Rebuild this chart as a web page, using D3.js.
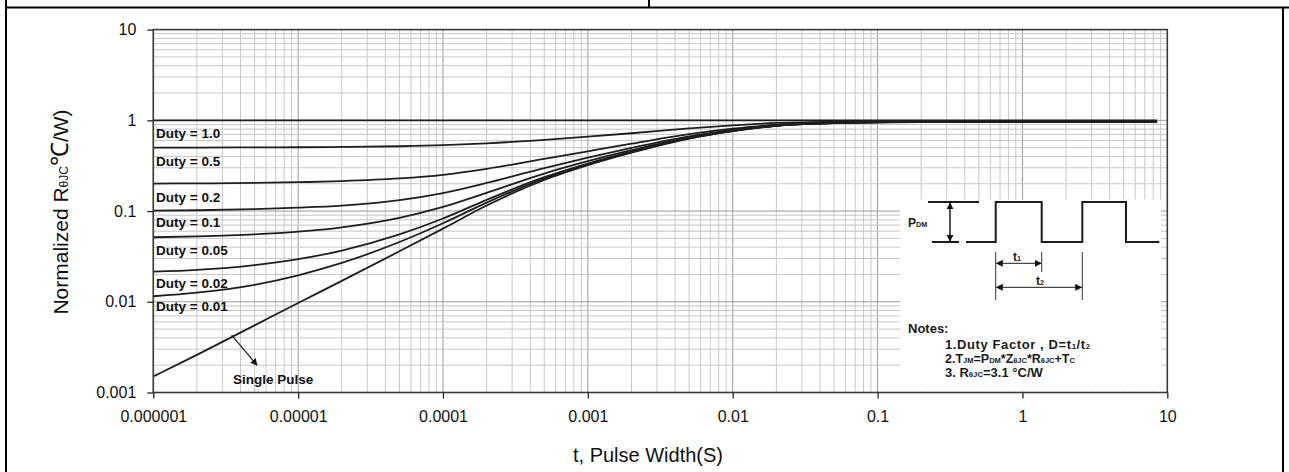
<!DOCTYPE html>
<html>
<head>
<meta charset="utf-8">
<script src="https://cdn.jsdelivr.net/npm/d3@7"></script>
<style>
  body { margin: 0; background: #fff; }
  svg { display: block; }
</style>
</head>
<body>
<div id="chart"></div>
<script>
// pulse widths (s) where the curves were read
const pulseWidths = [1e-6, 2e-6, 5e-6, 1e-5, 2e-5, 5e-5, 1e-4, 2e-4, 5e-4, 1e-3, 2e-3, 5e-3, 1e-2, 2e-2, 5e-2, 1e-1, 2e-1, 8.5];

// normalized thermal impedance, one list per duty factor
const duty10  = [1, 1, 1, 1, 1, 1, 1, 1, 1, 1, 1, 1, 1, 1, 1, 1, 1, 1];
const duty05  = [0.501, 0.501, 0.503, 0.505, 0.509, 0.518, 0.532, 0.558, 0.61, 0.66, 0.72, 0.815, 0.88, 0.935, 0.965, 0.975, 0.978, 0.978];
const duty02  = [0.201, 0.202, 0.204, 0.208, 0.214, 0.229, 0.251, 0.292, 0.376, 0.456, 0.552, 0.704, 0.808, 0.896, 0.944, 0.96, 0.964, 0.964];
const duty01  = [0.101, 0.102, 0.105, 0.109, 0.115, 0.132, 0.158, 0.204, 0.298, 0.388, 0.496, 0.667, 0.784, 0.883, 0.937, 0.955, 0.96, 0.96];
const duty005 = [0.0514, 0.0525, 0.0552, 0.0592, 0.0662, 0.0842, 0.111, 0.159, 0.259, 0.354, 0.468, 0.649, 0.772, 0.877, 0.934, 0.953, 0.957, 0.957];
const duty002 = [0.0215, 0.0225, 0.0254, 0.0295, 0.0367, 0.0553, 0.0827, 0.133, 0.236, 0.334, 0.451, 0.637, 0.765, 0.873, 0.931, 0.951, 0.956, 0.956];
const duty001 = [0.0115, 0.0126, 0.0154, 0.0196, 0.0268, 0.0456, 0.0734, 0.124, 0.228, 0.327, 0.446, 0.634, 0.762, 0.871, 0.931, 0.951, 0.955, 0.955];
const single  = [0.0015, 0.0026, 0.0055, 0.0097, 0.017, 0.036, 0.064, 0.115, 0.22, 0.32, 0.44, 0.63, 0.76, 0.87, 0.93, 0.95, 0.955, 0.955];

const series = [duty10, duty05, duty02, duty01, duty005, duty002, duty001, single];
const dutyLabels = ["Duty = 1.0", "Duty = 0.5", "Duty = 0.2", "Duty = 0.1", "Duty = 0.05", "Duty = 0.02", "Duty = 0.01"];

// axis ticks
const xTicks = [1e-6, 1e-5, 1e-4, 1e-3, 1e-2, 1e-1, 1, 10];
const xTickLabels = ["0.000001", "0.00001", "0.0001", "0.001", "0.01", "0.1", "1", "10"];
const yTicks = [0.001, 0.01, 0.1, 1, 10];
const yTickLabels = ["0.001", "0.01", "0.1", "1", "10"];

// single pulse pointer (from the curve down to its label)
const pointerFrom = [3.47e-6, 0.0043];
const pointerTo = [5.2e-6, 0.002];

const W = 1289, H = 472;
const plot = { left: 153.3, right: 1167.3, top: 29.6, bottom: 392.5 };

const svg = d3.select("#chart")
    .append("svg")
    .attr("width", W)
    .attr("height", H);

// outer frame of the datasheet table
svg.append("line").attr("x1", 6).attr("x2", W).attr("y1", 7.5).attr("y2", 7.5)
    .attr("stroke", "#000").attr("stroke-width", 2);
svg.append("line").attr("x1", 649).attr("x2", 649).attr("y1", 0).attr("y2", 7.5)
    .attr("stroke", "#000").attr("stroke-width", 2);
svg.append("line").attr("x1", 6).attr("x2", 6).attr("y1", 0).attr("y2", H)
    .attr("stroke", "#000").attr("stroke-width", 2);
svg.append("line").attr("x1", 1283).attr("x2", 1283).attr("y1", 7.5).attr("y2", H)
    .attr("stroke", "#000").attr("stroke-width", 2);

const xScale = d3.scaleLog().domain([1e-6, 10]).range([plot.left, plot.right]);
const yScale = d3.scaleLog().domain([0.001, 10]).range([plot.bottom, plot.top]);

// grid lines (1..9 per decade)
const xGrid = [], yGrid = [];
for (let e = -6; e < 1; e++) for (let k = 1; k < 10; k++) xGrid.push({ v: k * Math.pow(10, e), major: k === 1 });
for (let e = -3; e < 1; e++) for (let k = 1; k < 10; k++) yGrid.push({ v: k * Math.pow(10, e), major: k === 1 });

const grid = svg.append("g").attr("class", "grid");
grid.selectAll(".gx")
    .data(xGrid)
    .join("line")
    .attr("x1", d => xScale(d.v)).attr("x2", d => xScale(d.v))
    .attr("y1", plot.top).attr("y2", plot.bottom)
    .attr("stroke", d => d.major ? "#9a9a9a" : "#c6c6c6")
    .attr("stroke-width", 1);
grid.selectAll(".gy")
    .data(yGrid)
    .join("line")
    .attr("x1", plot.left).attr("x2", plot.right)
    .attr("y1", d => yScale(d.v)).attr("y2", d => yScale(d.v))
    .attr("stroke", d => d.major ? "#9a9a9a" : "#c6c6c6")
    .attr("stroke-width", 1);

// white box behind the inset drawing
svg.append("rect")
    .attr("x", 900).attr("y", 199.5)
    .attr("width", 261).attr("height", 192)
    .attr("fill", "#fff");

// curves
const line = d3.line()
    .x((d, i) => xScale(pulseWidths[i]))
    .y(d => yScale(d))
    .curve(d3.curveMonotoneX);

svg.selectAll(".curve")
    .data(series)
    .join("path")
    .attr("class", "curve")
    .attr("fill", "none")
    .attr("stroke", "#1e1e1e")
    .attr("stroke-width", 1.8)
    .attr("d", line);

// plot border
svg.append("rect")
    .attr("x", plot.left).attr("y", plot.top)
    .attr("width", plot.right - plot.left).attr("height", plot.bottom - plot.top)
    .attr("fill", "none")
    .attr("stroke", "#3a3a3a")
    .attr("stroke-width", 1.6);

// axes
const xAxis = svg.append("g")
    .attr("transform", `translate(0,${plot.bottom})`)
    .call(d3.axisBottom(xScale).tickValues(xTicks).tickSize(6).tickPadding(12)
        .tickFormat((d, i) => xTickLabels[i]));
const yAxis = svg.append("g")
    .attr("transform", `translate(${plot.left},0)`)
    .call(d3.axisLeft(yScale).tickValues(yTicks).tickSize(6).tickPadding(11)
        .tickFormat((d, i) => yTickLabels[i]));

[xAxis, yAxis].forEach(a => {
    a.select(".domain").remove();
    a.selectAll(".tick line").attr("stroke", "#222").attr("stroke-width", 1.3);
    a.selectAll(".tick text")
        .attr("fill", "#111")
        .style("font-family", "'Liberation Sans', Arial, sans-serif")
        .style("font-size", "16px");
});

// axis titles
svg.append("text")
    .attr("x", 648).attr("y", 462)
    .attr("text-anchor", "middle")
    .style("font-family", "'Liberation Sans', Arial, sans-serif")
    .style("font-size", "20px")
    .attr("fill", "#111")
    .text("t, Pulse Width(S)");

const yTitle = svg.append("text")
    .attr("transform", "translate(68,212) rotate(-90)")
    .attr("text-anchor", "middle")
    .style("font-family", "'Liberation Sans', Arial, sans-serif")
    .style("font-size", "21px")
    .attr("fill", "#111");
yTitle.append("tspan").text("Normalized R");
yTitle.append("tspan").style("font-size", "12px").text("θJC");
yTitle.append("tspan").style("font-size", "24px").text("℃");
yTitle.append("tspan").text("/W)");

// duty labels
const labelCenters = [133, 160.7, 196.7, 221.7, 250, 282.7, 306];
svg.selectAll(".duty-label")
    .data(dutyLabels)
    .join("text")
    .attr("class", "duty-label")
    .attr("x", 156)
    .attr("y", (d, i) => labelCenters[i] + 5)
    .style("font-family", "'Liberation Sans', Arial, sans-serif")
    .style("font-size", "13.5px")
    .style("font-weight", "bold")
    .attr("fill", "#111")
    .text(d => d);

svg.append("text")
    .attr("x", 233).attr("y", 384)
    .style("font-family", "'Liberation Sans', Arial, sans-serif")
    .style("font-size", "13.5px")
    .style("font-weight", "bold")
    .attr("fill", "#111")
    .text("Single Pulse");

// arrow markers
const defs = svg.append("defs");
defs.append("marker")
    .attr("id", "head")
    .attr("viewBox", "0 0 10 10")
    .attr("refX", 9).attr("refY", 5)
    .attr("markerWidth", 7).attr("markerHeight", 7)
    .attr("markerUnits", "userSpaceOnUse")
    .attr("orient", "auto-start-reverse")
    .append("path")
    .attr("d", "M0,0 L10,5 L0,10 z")
    .attr("fill", "#111");

svg.append("line")
    .attr("x1", xScale(pointerFrom[0])).attr("y1", yScale(pointerFrom[1]))
    .attr("x2", xScale(pointerTo[0])).attr("y2", yScale(pointerTo[1]))
    .attr("stroke", "#222").attr("stroke-width", 1.2)
    .attr("marker-end", "url(#head)");

// inset: pulse train and notes
const inset = svg.append("g").attr("transform", "translate(900,200)");
const ink = "#1a1a1a";

inset.append("line").attr("x1", 28).attr("x2", 79).attr("y1", 2).attr("y2", 2)
    .attr("stroke", ink).attr("stroke-width", 2);
inset.append("line").attr("x1", 32).attr("x2", 59).attr("y1", 42).attr("y2", 42)
    .attr("stroke", ink).attr("stroke-width", 2);
inset.append("line").attr("x1", 50).attr("x2", 50).attr("y1", 3).attr("y2", 41)
    .attr("stroke", ink).attr("stroke-width", 1.5)
    .attr("marker-start", "url(#head)").attr("marker-end", "url(#head)");

inset.append("path")
    .attr("d", "M66,42 H95.7 V2 H141.7 V42 H182.3 V2 H226 V42 H259.3")
    .attr("fill", "none").attr("stroke", ink).attr("stroke-width", 2);

[[95.7, 52, 100], [141.7, 52, 72], [182.3, 52, 100]].forEach(([x, y1, y2]) => {
    inset.append("line").attr("x1", x).attr("x2", x).attr("y1", y1).attr("y2", y2)
        .attr("stroke", "#333").attr("stroke-width", 1);
});
inset.append("line").attr("x1", 96.5).attr("x2", 141).attr("y1", 63.3).attr("y2", 63.3)
    .attr("stroke", ink).attr("stroke-width", 1)
    .attr("marker-start", "url(#head)").attr("marker-end", "url(#head)");
inset.append("line").attr("x1", 96.5).attr("x2", 181.5).attr("y1", 87.3).attr("y2", 87.3)
    .attr("stroke", ink).attr("stroke-width", 1)
    .attr("marker-start", "url(#head)").attr("marker-end", "url(#head)");

function subText(g, x, y, size, parts, spacing) {
    const t = g.append("text")
        .attr("x", x).attr("y", y)
        .style("font-family", "'Liberation Sans', Arial, sans-serif")
        .style("font-weight", "bold")
        .style("font-size", size + "px")
        .style("letter-spacing", (spacing || 0) + "px")
        .attr("fill", ink);
    parts.forEach(([s, sub]) => {
        t.append("tspan")
            .style("font-size", (sub ? size * 0.6 : size) + "px")
            .text(s);
    });
    return t;
}

subText(inset, 8, 27, 12, [["P"], ["DM", true]]);
subText(inset, 113, 61, 12, [["t"], ["1", true]]);
subText(inset, 136, 85, 12, [["t"], ["2", true]]);

subText(inset, 8, 133, 13, [["Notes:"]]);
subText(inset, 45, 148.5, 13, [["1.Duty Factor , D=t"], ["1", true], ["/t"], ["2", true]], 0.6);
subText(inset, 45, 162.5, 12.5, [["2.T"], ["JM", true], ["=P"], ["DM", true], ["*Z"], ["θJC", true], ["*R"], ["θJC", true], ["+T"], ["C", true]]);
subText(inset, 45, 176.5, 13, [["3. R"], ["θJC", true], ["=3.1 °C/W"]]);
</script>
</body>
</html>
